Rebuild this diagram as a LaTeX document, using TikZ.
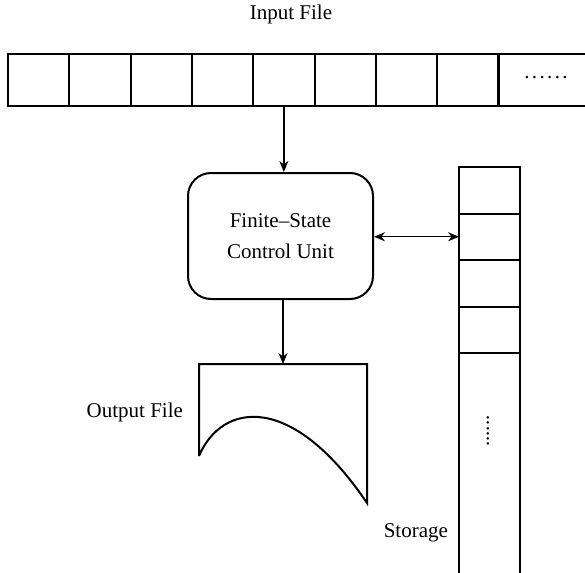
\documentclass[tikz,border=0pt]{standalone}
\usepackage{fontspec}
\setmainfont{Liberation Serif}
\usetikzlibrary{arrows.meta}

\newcommand{\tapedots}{.\kern1.2pt.\kern1.2pt.\kern1.2pt.\kern1.2pt.\kern1.2pt.}

\tikzset{
  cell/.style={draw, line width=1pt, minimum width=30.65pt, minimum height=26pt, inner sep=0pt, outer sep=0pt},
  slot/.style={draw, line width=1pt, minimum width=30.5pt, minimum height=23.25pt, inner sep=0pt, outer sep=0pt},
  arr/.style={line width=0.7pt, -{Stealth[length=5.5pt,width=4.5pt]}},
  darr/.style={line width=0.7pt, {Stealth[length=5.5pt,width=4.5pt]}-{Stealth[length=5.5pt,width=4.5pt]}},
}

\begin{document}
\begin{tikzpicture}[x=0.5pt, y=-0.5pt, font=\fontsize{10.5}{12}\selectfont]
	\useasboundingbox (0,0) rectangle (585,573);
	\clip (0,0) rectangle (585,573);
	% input tape
	\node (infile) at (291,14) {Input File};
	\foreach \i in {1,...,8}
		\node [cell] (c\i) at ({38.65+(\i-1)*61.3},80) {};
	\node [cell, minimum width=50pt] (c9) at (548.6,80) {};
	\node (tdots) at (546,78) {\tapedots};
	% control unit
	\node [draw, line width=1pt, rounded corners=11.5pt, minimum width=92.5pt, minimum height=63pt, align=center] (ctrl) at (280.5,236) {Finite--State\\[3.5pt]Control Unit};
	% storage
	\foreach \i in {1,...,4}
		\node [slot] (s\i) at (489.5,{190.25+(\i-1)*46.5}) {};
	\node [slot, minimum height=120pt, anchor=north] (s5) at (s4.south) {};
	\node [rotate=90] (sdots) at (488,431) {......};
	\node [anchor=east] (store) at (455,533) {Storage};
	% output file
	\draw [line width=1pt] (199,456) -- (199,364) -- (367,364) -- (367,503) .. controls (292,392) and (222,402) .. (199,456);
	\coordinate (outtop) at (283,364);
	\node [anchor=east] (outfile) at (190,412) {Output File};
	% connectors
	\draw [arr] (c5.south) -- (c5.south |- ctrl.north);
	\draw [arr] (outtop |- ctrl.south) -- (outtop);
	\draw [darr] (s2.west -| ctrl.east) -- (s2.west);
\end{tikzpicture}
\end{document}
